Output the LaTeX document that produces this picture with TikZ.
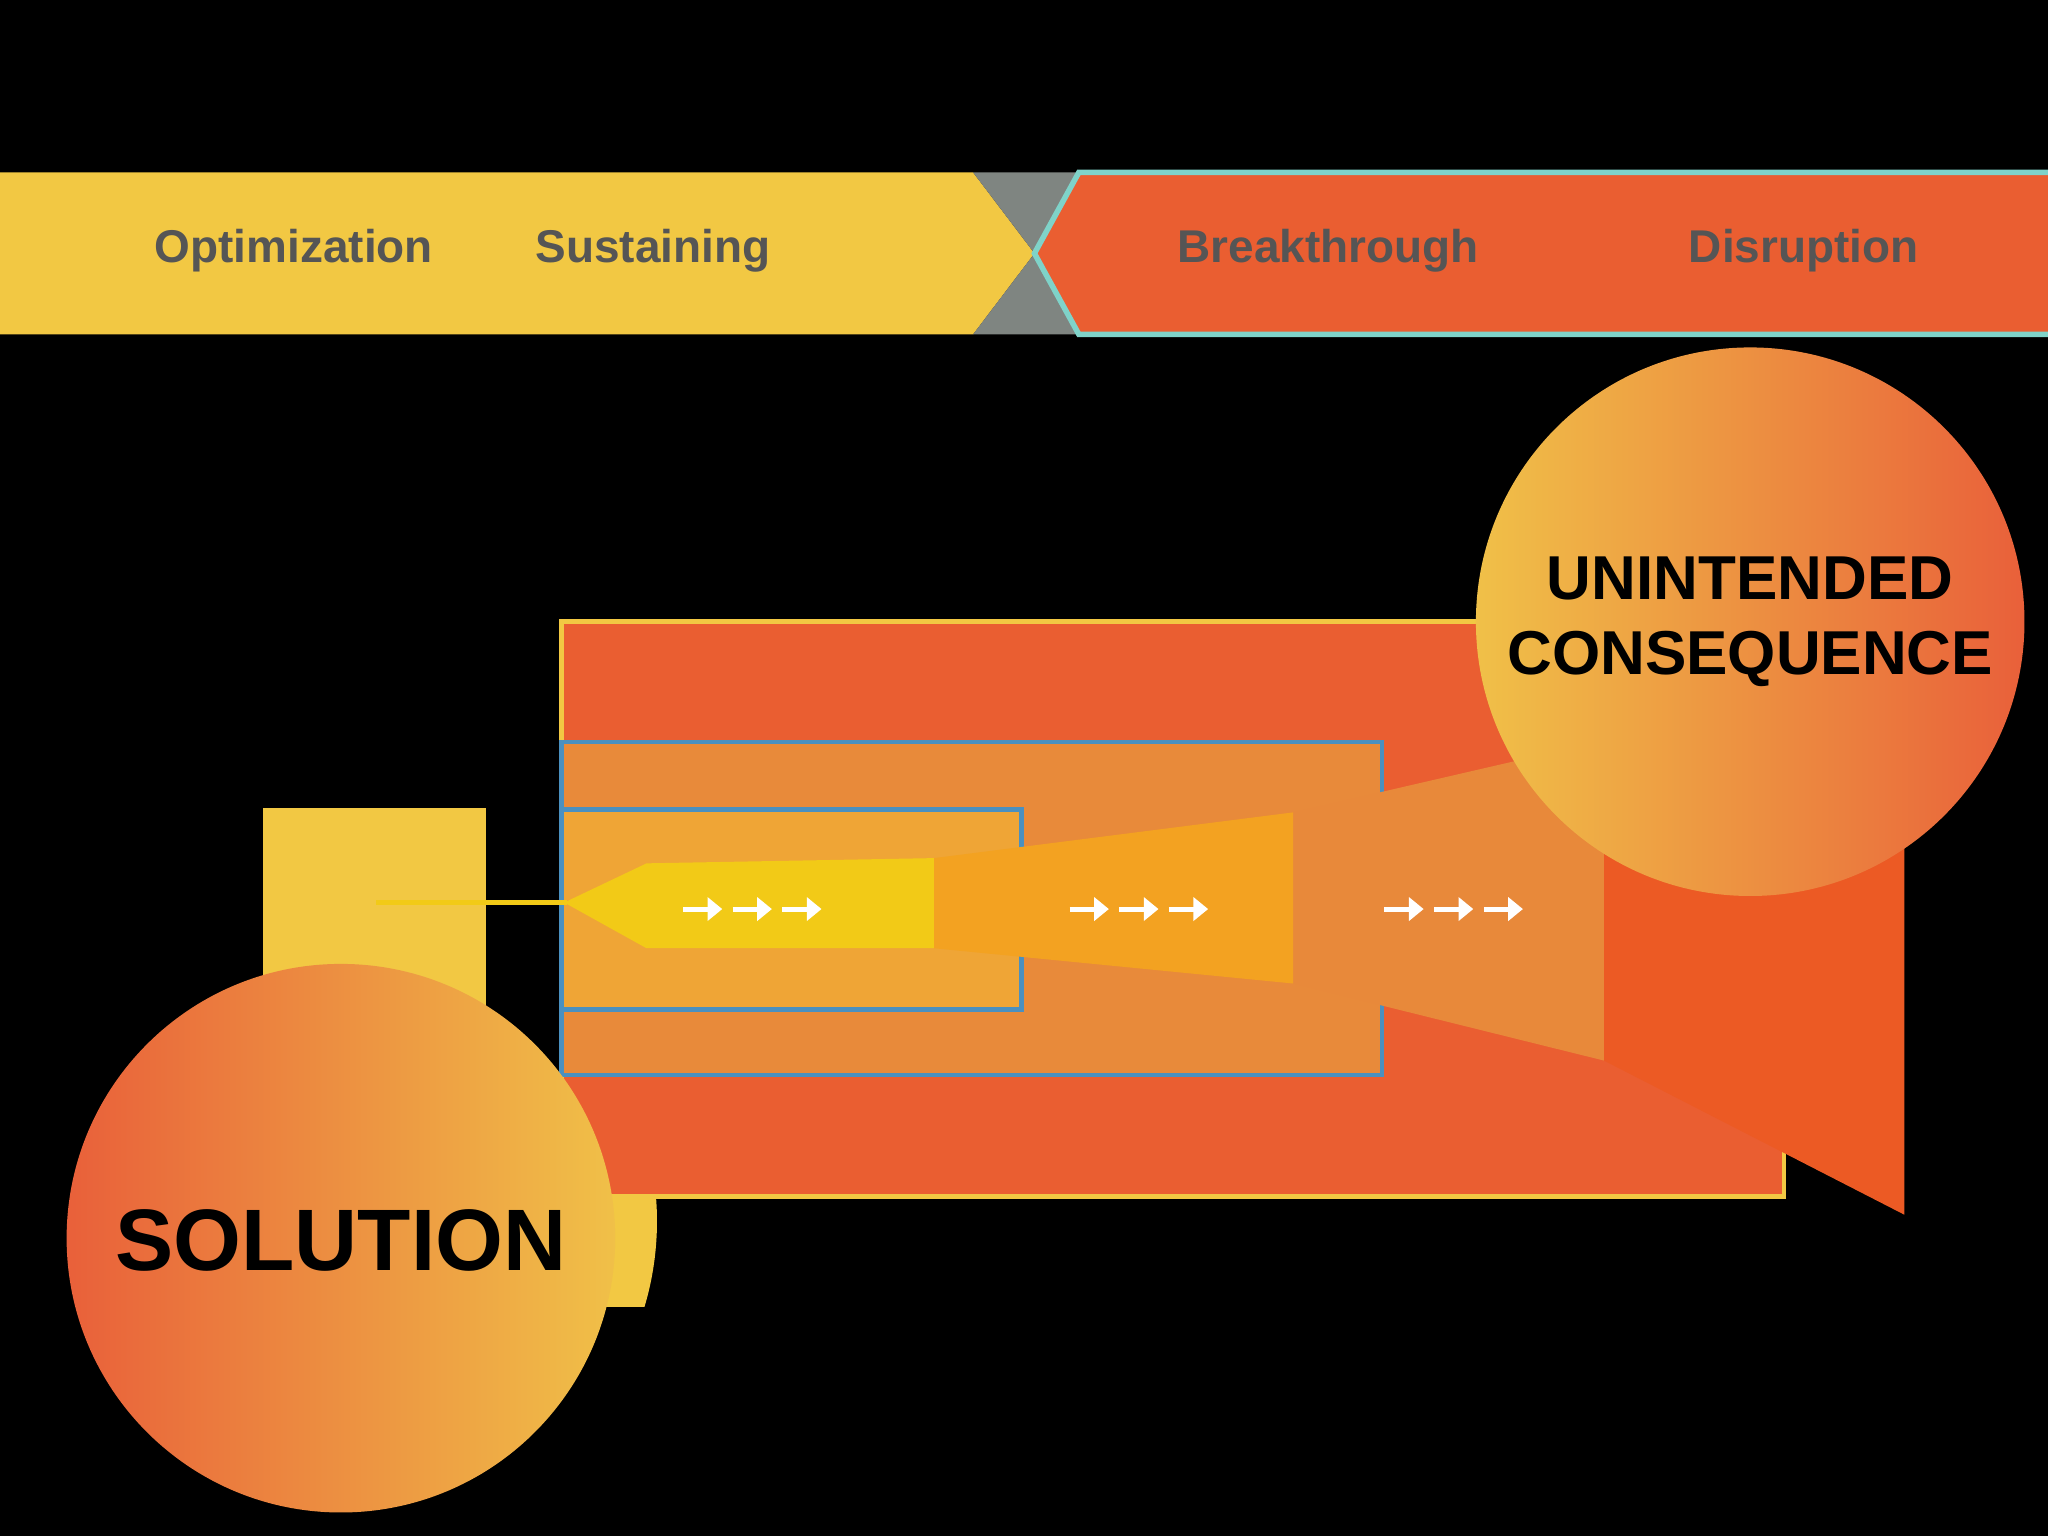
\documentclass[tikz,border=0pt]{standalone}
\usepackage{fontspec}
\setmainfont{Liberation Sans}
\usetikzlibrary{arrows.meta}
\definecolor{ylw}{HTML}{F2C843}
\definecolor{org}{HTML}{EA5E31}
\definecolor{gry}{HTML}{7F8581}
\definecolor{teal}{HTML}{7FD3C9}
\definecolor{txt}{HTML}{555555}
\definecolor{midbox}{HTML}{E88A3A}
\definecolor{inbox}{HTML}{EFA536}
\definecolor{bluel}{HTML}{4A90C0}
\definecolor{seg1}{HTML}{F2CA17}
\definecolor{seg2}{HTML}{F3A221}
\definecolor{seg3}{HTML}{E8893A}
\definecolor{seg4}{HTML}{EC5A24}
\definecolor{gA}{HTML}{E9603A}
\definecolor{gB}{HTML}{F0C048}
\tikzset{
  band/.style={font=\fontsize{10}{12}\selectfont\bfseries, text=txt},
  big/.style={font=\bfseries, text=black, align=center},
  flow/.style={white, line width=1.1pt, -{Triangle[length=3.2pt,width=5pt]}},
  box/.style={draw=bluel, line width=1pt}
}
\begin{document}
\begin{tikzpicture}[x=0.01cm,y=-0.01cm]
\fill[black] (0,0) rectangle (1568,1176);
\useasboundingbox (0,0) rectangle (1568,1176);
% top band
\fill[ylw] (0,132) -- (745,132) -- (792,194) -- (745,256) -- (0,256) -- cycle;
\fill[gry] (745,132) -- (826,132) -- (792,194) -- cycle;
\fill[gry] (745,256) -- (826,256) -- (792,194) -- cycle;
\fill[org] (826,132) -- (1568,132) -- (1568,256) -- (826,256) -- (792,194) -- cycle;
\draw[teal, line width=1.2pt] (1568,132) -- (826,132) -- (792,194) -- (826,256) -- (1568,256);
\node[band] (opt) at (225,192) {Optimization};
\node[band] (sus) at (500,192) {Sustaining};
\node[band] (brk) at (1017,192) {Breakthrough};
\node[band] (dis) at (1381,192) {Disruption};
% yellow arc behind
\begin{scope}
\clip (440,895) rectangle (530,1000);
\fill[ylw] (275,935) circle (228);
\end{scope}
% boxes
\fill[org, draw=ylw, line width=1pt] (430,476) rectangle (1366,916);
\fill[midbox] (430,568) rectangle (1058,823);
\draw[box] (430,568) rectangle (1058,823);
\fill[inbox] (430,620) rectangle (782,773);
\draw[box] (430,620) rectangle (782,773);
% funnel
\fill[seg4] (1228,567) -- (1458,505) -- (1458,930) -- (1228,812) -- cycle;
\fill[seg3] (990,622) -- (1228,567) -- (1228,812) -- (990,753) -- cycle;
\fill[seg2] (715,657) -- (990,622) -- (990,753) -- (715,726) -- cycle;
\fill[seg1] (432,691) -- (495,661) -- (715,657) -- (715,726) -- (495,726) -- cycle;
% yellow rect and line
\fill[ylw] (201,619) rectangle (372,790);
\coordinate (ls) at (288,691);
\coordinate (le) at (434,691);
\draw[seg1, line width=1.1pt] (ls) -- (le);
% flow arrows
\foreach \x in {523,561,599, 819,857,895, 1060,1098,1136}
  \draw[flow] (\x,696) -- ++(30,0);
% circles
\shade[left color=gA, right color=gB] (261,948) circle (210);
\node[big, font=\fontsize{19}{22}\selectfont\bfseries] (sol) at (261,950) {SOLUTION};
\shade[left color=gB, right color=gA] (1340,476) circle (210);
\node[big, font=\fontsize{13.5}{16.5}\selectfont\bfseries] (unc) at (1340,476) {UNINTENDED\\CONSEQUENCE};
\end{tikzpicture}
\end{document}
